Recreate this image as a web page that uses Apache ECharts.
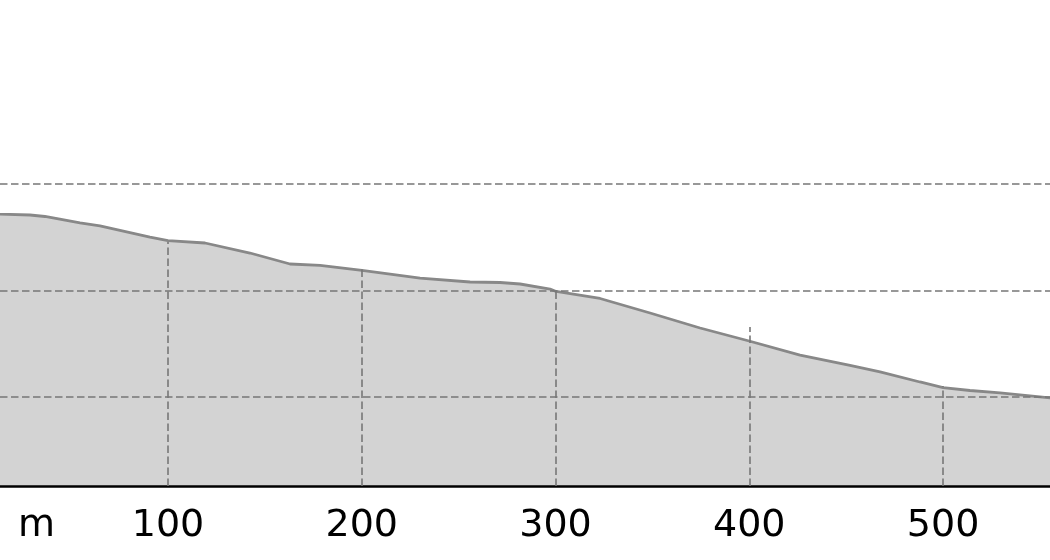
<!DOCTYPE html>
<html>
<head>
<meta charset="utf-8">
<script src="https://cdn.jsdelivr.net/npm/echarts@6/dist/echarts.min.js"></script>
<style>
html,body{margin:0;padding:0;background:#fff;}
#chart{width:1050px;height:560px;}
</style>
</head>
<body>
<div id="chart"></div>
<script>
// Distance along the profile (m)
const distances = [12, 13.3, 28.8, 36.5, 54.6, 64.9, 90.7, 100, 119.1, 142.3, 163.0, 178.5, 200.1, 230.1, 255.9, 271.4, 281.7, 297.2, 300.3, 323.0, 348.8, 374.6, 399.9, 426.2, 452.0, 467.5, 488.1, 500.0, 513.9, 529.4, 555.2, 558];
// Elevation (relative units; grid lines at 10, 20, 30)
const elevations = [27.2, 27.18, 27.09, 26.95, 26.34, 26.06, 25.02, 24.69, 24.46, 23.52, 22.49, 22.35, 21.88, 21.17, 20.80, 20.75, 20.61, 20.14, 19.91, 19.25, 17.89, 16.48, 15.26, 13.94, 12.96, 12.35, 11.41, 10.89, 10.61, 10.38, 9.91, 9.85];
// Distance tick labels
const xTicks = [100, 200, 300, 400, 500];
// Horizontal grid levels
const yGrid = [10, 20, 30];
// Vertical grid markers: height they reach at each tick
const gridTop = [24.55, 22.2, 19.95, 16.57, 11.03];
const baseValue = 1.64;   // elevation value at the drawn x-axis line
const xView = [13.3, 555.2]; // visible distance range
const unitLabel = 'm';

const chart = echarts.init(document.getElementById('chart'), null, {renderer: 'canvas'});
const font = 'DejaVu Sans';
const dashColor = '#777777';

const markData = xTicks.map((x, i) => [
  {coord: [x, baseValue]},
  {coord: [x, gridTop[i]]}
]).concat(yGrid.map(v => ({yAxis: v})));

chart.setOption({
  animation: false,
  backgroundColor: '#ffffff',
  grid: {left: 0, right: 0, top: 130.75, bottom: 56.5, containLabel: false, outerBoundsMode: 'none'},
  xAxis: {
    type: 'value', min: xView[0], max: xView[1],
    offset: -17.5,
    z: 3,
    axisLine: {show: true, onZero: false, lineStyle: {color: '#000', width: 2.5}},
    axisTick: {show: false},
    splitLine: {show: false},
    axisLabel: {show: true, color: '#000', fontFamily: font, fontSize: 38, margin: 21,
      customValues: xTicks, hideOverlap: false}
  },
  yAxis: {
    type: 'value', min: 0, max: 35, interval: 5,
    axisLine: {show: false}, axisTick: {show: false}, axisLabel: {show: false},
    splitLine: {show: false}
  },
  graphic: [{
    type: 'text', left: 18, top: 507,
    style: {text: unitLabel, font: '38px "DejaVu Sans"', fill: '#000'}
  }],
  series: [{
    type: 'line',
    data: distances.map((d, i) => [d, elevations[i]]),
    symbol: 'none',
    smooth: false,
    lineStyle: {color: '#888888', width: 2.8},
    areaStyle: {color: '#d3d3d3', opacity: 1, origin: baseValue},
    markLine: {
      silent: true,
      symbol: ['none', 'none'],
      label: {show: false},
      lineStyle: {color: dashColor, width: 1.6, type: [7.5, 3.5]},
      data: markData
    }
  }]
});
</script>
</body>
</html>
